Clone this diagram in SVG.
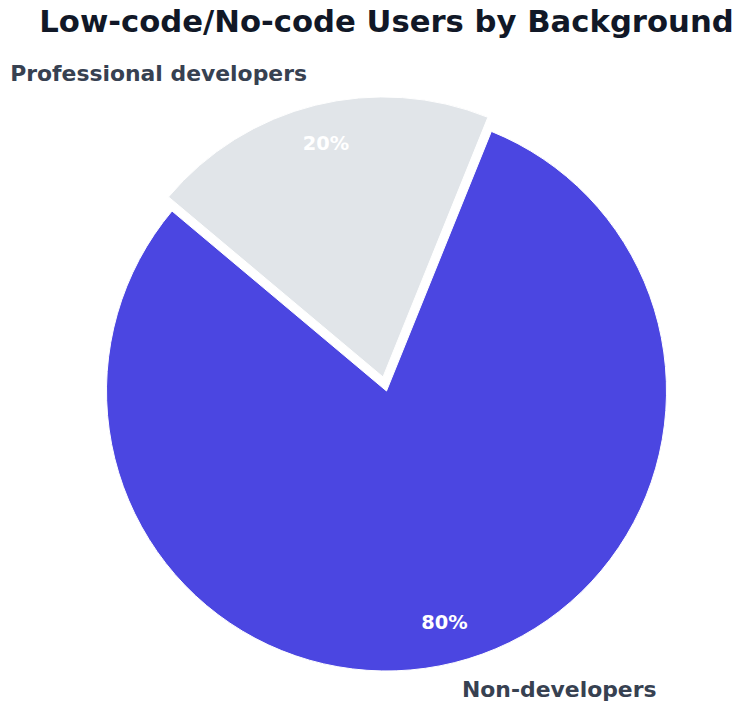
<svg xmlns="http://www.w3.org/2000/svg" width="737" height="703" viewBox="0 0 737 703">
  <style>
    .title { font-family: "DejaVu Sans", "Liberation Sans", sans-serif; font-weight: bold; font-size: 30.7px; fill: #111827; }
    .label { font-family: "DejaVu Sans", "Liberation Sans", sans-serif; font-weight: bold; font-size: 21.9px; fill: #374151; }
    .pct { font-family: "DejaVu Sans", "Liberation Sans", sans-serif; font-weight: bold; font-size: 19.4px; fill: #ffffff; text-anchor: middle; }
    .wedge { stroke: #ffffff; stroke-width: 1; stroke-linejoin: miter; }
  </style>
  <rect width="737" height="703" fill="#ffffff"/>

  <text class="title" x="386.5" y="32" text-anchor="middle">Low-code/No-code Users by Background</text>

  <!-- Non-developers: 80%, from 140deg to 68deg counter-clockwise -->
  <g id="non-developers">
    <path class="wedge" fill="#4B46E1" d="M386.5,391 L172.01,211.02 A280,280 0 1 0 491.39,131.39 Z"/>
    <text class="pct" x="444.5" y="629">80%</text>
    <text class="label" x="462" y="697">Non-developers</text>
  </g>

  <!-- Professional developers: 20%, pulled out along 104deg -->
  <g id="professional-developers">
    <path class="wedge" fill="#E1E5E9" d="M382.99,376.93 L487.88,117.32 A280,280 0 0 0 168.50,196.95 Z"/>
    <text class="pct" x="326" y="150">20%</text>
    <text class="label" x="307" y="81" text-anchor="end">Professional developers</text>
  </g>
</svg>
